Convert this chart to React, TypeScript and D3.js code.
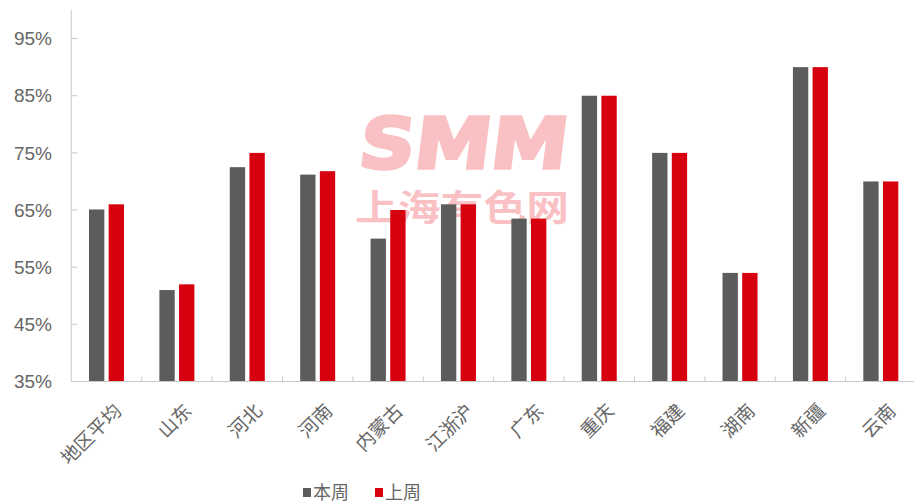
import React from "react";
import * as d3 from "d3";

const categories = ["地区平均", "山东", "河北", "河南", "内蒙古", "江浙沪", "广东", "重庆", "福建", "湖南", "新疆", "云南"];
const thisWeek = [65.1, 51, 72.5, 71.2, 60, 66, 63.5, 85, 75, 54, 90, 70];
const lastWeek = [66, 52, 75, 71.8, 65, 66, 63.5, 85, 75, 54, 90, 70];
const seriesNames = ["本周", "上周"];
const seriesColors = ["#5c5c5c", "#d7000f"];
const yTicks = [35, 45, 55, 65, 75, 85, 95];

const W = 914;
const H = 503;
const left = 71.3;
const right = 916;
const top = 10;
const bottom = 381.5;

export default function App() {
  const x0 = d3.scaleBand<string>().domain(categories).range([left, right]).padding(0);
  const x1 = d3.scaleBand<string>().domain(seriesNames).range([-17.5, 17.5]).paddingInner(0.22);
  const y = d3.scaleLinear().domain([35, 100]).range([bottom, top]);
  const series = [thisWeek, lastWeek];
  const textColor = "#666666";
  const axisColor = "#c8c8c8";
  const font = "'Noto Sans CJK SC', 'Liberation Sans', sans-serif";

  return (
    <svg width={W} height={H} style={{ position: "absolute", left: 0, top: 0, background: "#fff" }} fontFamily={font}>
      {/* watermark */}
      <g opacity={0.24}>
        <text transform="translate(357,168) scale(1,1.4) skewX(-10)" fontSize={50} fontWeight={700} fill="#e8000f" stroke="#e8000f" strokeWidth={2.5} textLength={208} lengthAdjust="spacingAndGlyphs" fontFamily="'DejaVu Sans', sans-serif">SMM</text>
        <text x={355} y={221} fontSize={36} fontWeight={700} fill="#e8000f" textLength={214} lengthAdjust="spacingAndGlyphs">上海有色网</text>
      </g>

      {/* y axis */}
      <line x1={left} x2={left} y1={top} y2={bottom} stroke={axisColor} strokeWidth={1} />
      {yTicks.map((t) => (
        <g key={t}>
          <line x1={left} x2={left + 6} y1={y(t)} y2={y(t)} stroke={axisColor} />
          <text x={52} y={y(t)} dy="0.35em" textAnchor="end" fontSize={19} fill={textColor} fontFamily="'Liberation Sans', sans-serif">{t}%</text>
        </g>
      ))}

      {/* bars */}
      {categories.map((c, i) => {
        const cx = (x0(c) as number) + x0.bandwidth() / 2;
        return (
          <g key={c}>
            {series.map((s, j) => (
              <rect
                key={j}
                x={cx + (x1(seriesNames[j]) as number)}
                y={y(s[i])}
                width={x1.bandwidth()}
                height={bottom - y(s[i])}
                fill={seriesColors[j]}
              />
            ))}
          </g>
        );
      })}

      {/* x axis */}
      <line x1={left} x2={W} y1={bottom} y2={bottom} stroke={axisColor} strokeWidth={1} />
      {categories.map((c, i) => (
        <line key={"t" + i} x1={(x0(c) as number) + x0.bandwidth()} x2={(x0(c) as number) + x0.bandwidth()} y1={bottom} y2={bottom - 5} stroke={axisColor} />
      ))}
      {categories.map((c) => {
        const cx = (x0(c) as number) + x0.bandwidth() / 2;
        return (
          <text
            key={"l" + c}
            transform={`translate(${cx + 6},${402}) rotate(-45)`}
            textAnchor="end"
            dy="0.75em"
            fontSize={19}
            fill={textColor}
          >
            {c}
          </text>
        );
      })}

      {/* legend */}
      {seriesNames.map((n, j) => {
        const lx = 303 + j * 72;
        return (
          <g key={n}>
            <rect x={lx} y={488} width={8} height={9} fill={seriesColors[j]} />
            <text x={lx + 10} y={493} dy="0.35em" fontSize={18} fill={textColor}>{n}</text>
          </g>
        );
      })}
    </svg>
  );
}
